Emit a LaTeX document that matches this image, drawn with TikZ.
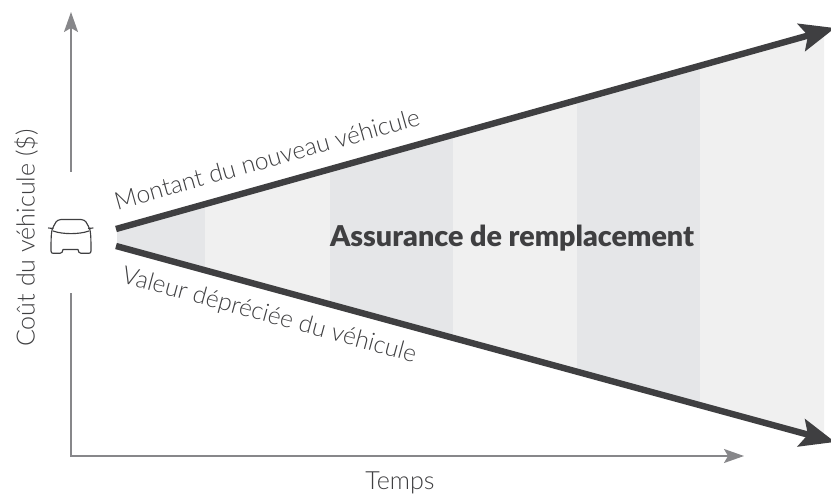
\documentclass[tikz,border=0pt]{standalone}
\usepackage{fontspec}
\setmainfont{Lato Light}[BoldFont={Lato Black}]
\usetikzlibrary{arrows.meta}
\definecolor{bandA}{HTML}{E5E6E8}
\definecolor{bandB}{HTML}{F0F0F0}
\definecolor{axisgrey}{HTML}{87878A}
\definecolor{boundgrey}{HTML}{3F3F41}
\definecolor{txtgrey}{HTML}{3F3F41}
\tikzset{
  axisline/.style={draw=axisgrey,line width=1.2pt,-{Stealth[length=15pt,width=10.5pt,inset=3pt]}},
  boundline/.style={draw=boundgrey,line width=4.8pt,-{Stealth[length=26pt,width=21pt,inset=5pt]}},
  lbl/.style={font=\fontsize{18.8}{22}\selectfont,text=txtgrey,inner sep=0pt},
  lblb/.style={font=\fontsize{18.4}{22}\selectfont,text=txtgrey,inner sep=0pt},
  caricon/.style={draw=boundgrey,line width=.85pt,line join=round,line cap=round},
}
\begin{document}
\begin{tikzpicture}[x=0.75pt,y=-0.75pt]
\useasboundingbox (0,0) rectangle (831,495);
\def\topy#1{(#1,{229-(#1-116)*0.27972})}
\def\boty#1{(#1,{246+(#1-116)*0.27273})}
\foreach \a/\b/\c in {117/205/bandA,205/330/bandB,330/453/bandA,453/577/bandB,577/700/bandA,700/824/bandB}{
  \fill[\c] \topy{\a} -- \topy{\b} -- \boty{\b} -- \boty{\a} -- cycle;
}
\coordinate (tl) at (116,229);
\coordinate (tr) at (835,28);
\coordinate (bl) at (116,246);
\coordinate (br) at (835,442);
\draw[boundline] (tl) -- (tr);
\draw[boundline] (bl) -- (br);
\coordinate (ya) at (71,172);
\coordinate (yt) at (71,12);
\coordinate (yb) at (71,293);
\coordinate (o) at (71,456);
\coordinate (xe) at (744,456);
\draw[axisline] (ya) -- (yt);
\draw[axisline] (yb) -- (o) -- (xe);
% car
\draw[caricon] (61,219.5) -- (81,219.5) .. controls (84,219.5) and (85,221) .. (86,222) .. controls (87.5,224.5) and (89,227) .. (90,230)
  .. controls (91,234) and (91,244) .. (91,251) .. controls (91,252.8) and (90,253.3) .. (89,253.3)
  -- (81,253.3) .. controls (79,253.3) and (78.5,252) .. (78,249.5) -- (63,249.5)
  .. controls (62.5,252) and (62,253.3) .. (60,253.3) -- (53,253.3) .. controls (52,253.3) and (51,252.8) .. (51,251)
  .. controls (51,244) and (51,234) .. (52,230) .. controls (53,227) and (54.5,224.5) .. (56,222) .. controls (57,221) and (58,219.5) .. (61,219.5) -- cycle;
\draw[caricon] (53,231) .. controls (63,234.5) and (79,234.5) .. (89,231);
\draw[caricon] (48.5,228) -- (53,228.5);
\draw[caricon] (93,228) -- (88.5,228.5);
\node[lbl,rotate=90] (ylab) at (26,238) {Coût du véhicule (\$)};
\node[lbl] (xlab) at (400,483) {Temps};
\node[lblb,rotate=15.7] (mlab) at (267,159) {Montant du nouveau véhicule};
\node[lblb,rotate=-15.3] (vlab) at (269,316) {Valeur dépréciée du véhicule};
\node[font=\fontsize{21.5}{26}\selectfont\bfseries,text=boundgrey,inner sep=0pt] (main) at (512,238) {Assurance de remplacement};
\end{tikzpicture}
\end{document}
